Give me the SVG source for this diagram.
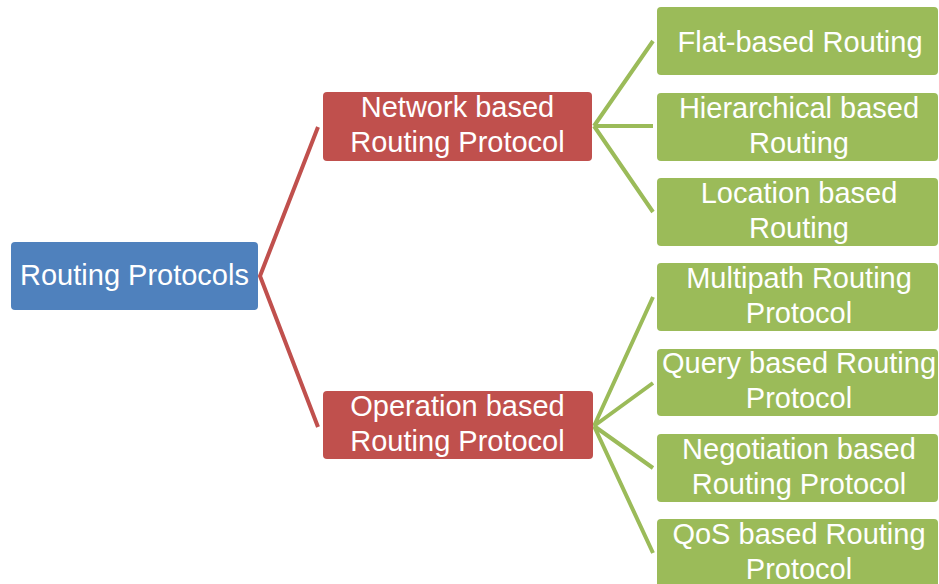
<svg xmlns="http://www.w3.org/2000/svg" width="939" height="584" viewBox="0 0 939 584">
<style>
.t{font-family:"Liberation Sans",Arial,sans-serif;font-size:29px;fill:#fff;text-anchor:middle}
.blue{fill:#4F81BD}
.red{fill:#C0504D}
.green{fill:#9BBB59}
.cr{stroke:#C0504D;stroke-width:4;fill:none;stroke-linejoin:miter}
.cg{stroke:#9BBB59;stroke-width:4;fill:none}
</style>
<rect width="939" height="584" fill="#fff"/>
<g id="connectors">
<polyline class="cr" points="318,127 260,276 318,427"/>
<path class="cg" d="M594,126 L653,41 M594,126 L653,126 M594,126 L653,212"/>
<path class="cg" d="M594,426 L653,297 M594,426 L653,383 M594,426 L653,468 M594,426 L653,553"/>
</g>
<g id="root">
<rect class="blue" x="11" y="242" width="247" height="68" rx="4"/>
<text class="t" x="134.5" y="285">Routing Protocols</text>
</g>
<g id="network">
<rect class="red" x="323" y="92" width="269" height="69" rx="4"/>
<text class="t" x="457.5" y="117">Network based</text>
<text class="t" x="457.5" y="152">Routing Protocol</text>
</g>
<g id="operation">
<rect class="red" x="323" y="391" width="270" height="68" rx="4"/>
<text class="t" x="457.5" y="416">Operation based</text>
<text class="t" x="457.5" y="451">Routing Protocol</text>
</g>
<g id="flat">
<rect class="green" x="657" y="7" width="281" height="68" rx="4"/>
<text class="t" x="800" y="52">Flat-based Routing</text>
</g>
<g id="hierarchical">
<rect class="green" x="657" y="93" width="281" height="68" rx="4"/>
<text class="t" x="799" y="118">Hierarchical based</text>
<text class="t" x="799" y="153">Routing</text>
</g>
<g id="location">
<rect class="green" x="657" y="178" width="281" height="68" rx="4"/>
<text class="t" x="799" y="203">Location based</text>
<text class="t" x="799" y="238">Routing</text>
</g>
<g id="multipath">
<rect class="green" x="657" y="263" width="281" height="68" rx="4"/>
<text class="t" x="799" y="288">Multipath Routing</text>
<text class="t" x="799" y="323">Protocol</text>
</g>
<g id="query">
<rect class="green" x="657" y="349" width="281" height="67" rx="4"/>
<text class="t" x="799" y="373">Query based Routing</text>
<text class="t" x="799" y="408">Protocol</text>
</g>
<g id="negotiation">
<rect class="green" x="657" y="434" width="281" height="68" rx="4"/>
<text class="t" x="799" y="459">Negotiation based</text>
<text class="t" x="799" y="494">Routing Protocol</text>
</g>
<g id="qos">
<rect class="green" x="657" y="519" width="281" height="68" rx="4"/>
<text class="t" x="799" y="544">QoS based Routing</text>
<text class="t" x="799" y="579">Protocol</text>
</g>
</svg>
